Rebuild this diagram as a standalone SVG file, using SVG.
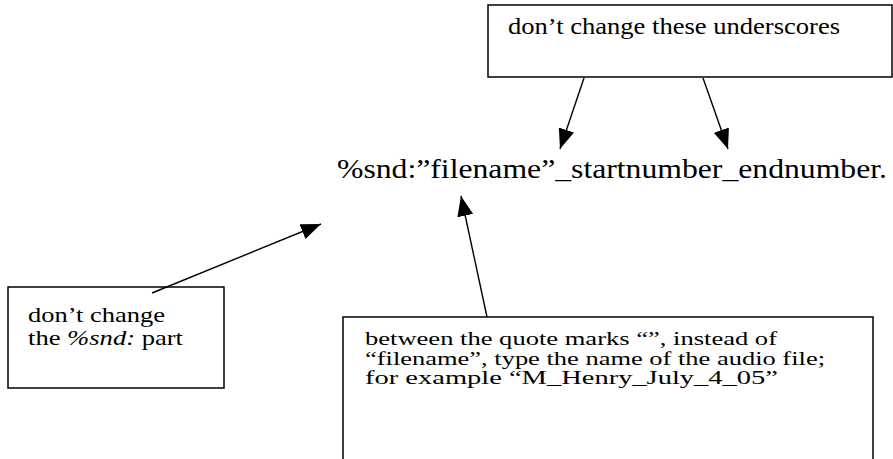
<svg xmlns="http://www.w3.org/2000/svg" width="893" height="459" viewBox="0 0 893 459">
<style>
.box{fill:#fff;stroke:#000;stroke-width:1.5}
.t{font-family:"Liberation Serif","Times New Roman",serif;fill:#000}
.c{stroke:#000;stroke-width:1.4;fill:none}
</style>
<defs>
<marker id="ah" markerUnits="userSpaceOnUse" markerWidth="20" markerHeight="16" refX="20" refY="8" orient="auto" viewBox="0 0 20 16">
<path d="M0,0 L20,8 L0,16 z" fill="#000"/>
</marker>
</defs>
<rect width="893" height="459" fill="#fff"/>
<g id="top-note">
<rect class="box" x="488" y="5" width="404" height="72"/>
<text class="t" x="508" y="34" font-size="24" textLength="332" lengthAdjust="spacingAndGlyphs">don’t change these underscores</text>
</g>
<g id="main-text">
<text class="t" x="337" y="178" font-size="28" textLength="550" lengthAdjust="spacingAndGlyphs">%snd:”filename”_startnumber_endnumber.</text>
</g>
<g id="left-note">
<rect class="box" x="8" y="287" width="216" height="101"/>
<text class="t" x="28" y="322" font-size="22" textLength="137" lengthAdjust="spacingAndGlyphs">don’t change</text>
<text class="t" x="28" y="345" font-size="22" textLength="155" lengthAdjust="spacingAndGlyphs">the <tspan font-style="italic">%snd:</tspan> part</text>
</g>
<g id="bottom-note">
<rect class="box" x="343" y="317" width="530" height="170"/>
<text class="t" x="365" y="345" font-size="18.5" textLength="412" lengthAdjust="spacingAndGlyphs">between the quote marks “”, instead of</text>
<text class="t" x="365" y="365" font-size="18.5" textLength="460" lengthAdjust="spacingAndGlyphs">“filename”, type the name of the audio file;</text>
<text class="t" x="365" y="384" font-size="18.5" textLength="413" lengthAdjust="spacingAndGlyphs">for example “M_Henry_July_4_05”</text>
</g>
<g id="connectors">
<line class="c" x1="584" y1="78" x2="560" y2="149" marker-end="url(#ah)"/>
<line class="c" x1="703" y1="78" x2="728" y2="149" marker-end="url(#ah)"/>
<line class="c" x1="152" y1="293" x2="321" y2="224" marker-end="url(#ah)"/>
<line class="c" x1="487" y1="317" x2="461" y2="196" marker-end="url(#ah)"/>
</g>
</svg>
